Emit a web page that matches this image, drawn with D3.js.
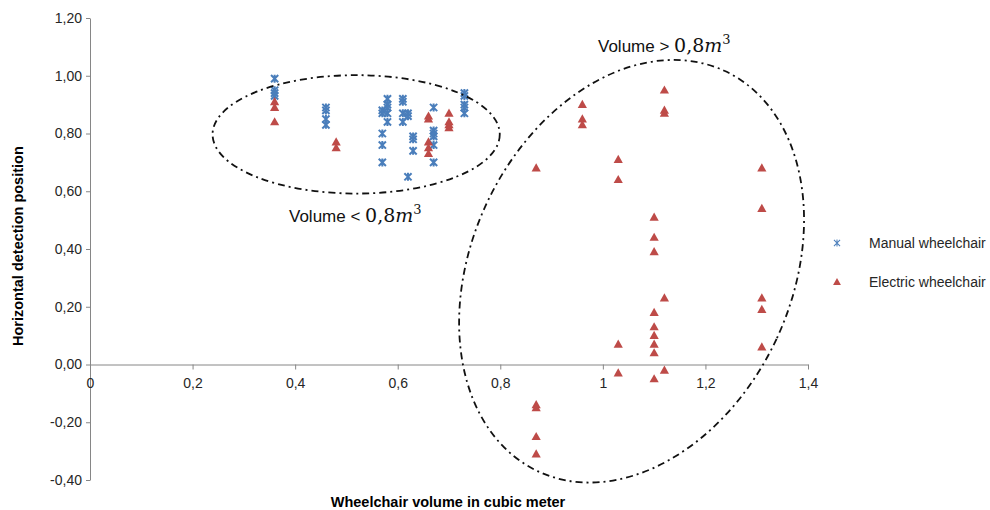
<!DOCTYPE html>
<html><head><meta charset="utf-8">
<script src="https://cdn.jsdelivr.net/npm/d3@7"></script>
<style>body{margin:0;background:#fff}svg{display:block}</style>
</head><body>
<script>
// ---- data ----
const manualX = [0.36,0.36,0.36,0.36, 0.46,0.46,0.46,0.46, 0.57,0.57,0.57,0.57,0.57,
  0.58,0.58,0.58,0.58,0.58, 0.61,0.61,0.61,0.61, 0.62,0.62,0.62, 0.63,0.63,0.63,
  0.67,0.67,0.67,0.67,0.67,0.67, 0.73,0.73,0.73,0.73,0.73];
const manualY = [0.99,0.95,0.94,0.93, 0.89,0.88,0.85,0.83, 0.88,0.87,0.80,0.76,0.70,
  0.92,0.90,0.89,0.87,0.84, 0.92,0.91,0.87,0.84, 0.87,0.86,0.65, 0.79,0.78,0.74,
  0.89,0.81,0.80,0.79,0.76,0.70, 0.94,0.93,0.90,0.89,0.87];
const electricX = [0.36,0.36,0.36, 0.48,0.48, 0.66,0.66,0.66,0.66,0.66, 0.70,0.70,0.70,0.70,
  0.87,0.87,0.87,0.87,0.87, 0.96,0.96,0.96, 1.03,1.03,1.03,1.03,
  1.10,1.10,1.10,1.10,1.10,1.10,1.10,1.10,1.10, 1.12,1.12,1.12,1.12,1.12,
  1.31,1.31,1.31,1.31,1.31];
const electricY = [0.91,0.89,0.84, 0.77,0.75, 0.86,0.85,0.77,0.75,0.73, 0.87,0.84,0.83,0.82,
  0.68,-0.14,-0.15,-0.25,-0.31, 0.90,0.85,0.83, 0.71,0.64,0.07,-0.03,
  0.51,0.44,0.39,0.18,0.13,0.10,0.07,0.04,-0.05, 0.95,0.88,0.87,0.23,-0.02,
  0.68,0.54,0.23,0.19,0.06];
const xTicks = [0,0.2,0.4,0.6,0.8,1,1.2,1.4];
const xTickLabels = ["0","0,2","0,4","0,6","0,8","1","1,2","1,4"];
const yTicks = [-0.4,-0.2,0,0.2,0.4,0.6,0.8,1.0,1.2];
const yTickLabels = ["-0,40","-0,20","0,00","0,20","0,40","0,60","0,80","1,00","1,20"];
const seriesNames = ["Manual wheelchair","Electric wheelchair"];
const xTitle = "Wheelchair volume in cubic meter";
const yTitle = "Horizontal detection position";
const groupLabels = ["Volume < ", "Volume > "];

// ---- chart ----
const W = 990, H = 510;
const blue = "#4a7ebb", red = "#be4b48", axisCol = "#868686", txt = "#262626";
const FONT = "'Liberation Sans', Arial, sans-serif";
const SERIF = "'DejaVu Serif', 'Liberation Serif', serif";
const svg = d3.select("body").append("svg").attr("width", W).attr("height", H)
  .style("font-family", FONT);

const x = d3.scaleLinear().domain([0, 1.4]).range([90, 808]);
const y = d3.scaleLinear().domain([-0.4, 1.2]).range([480, 18]);

// y axis
const yAxis = svg.append("g").attr("transform", `translate(${x(0)},0)`)
  .call(d3.axisLeft(y).tickValues(yTicks).tickFormat((d, i) => yTickLabels[i]).tickSize(4).tickSizeOuter(0));
yAxis.select(".domain").attr("stroke", axisCol);
yAxis.selectAll(".tick line").attr("stroke", axisCol);
yAxis.selectAll(".tick text").attr("font-size", 14).attr("fill", txt).attr("font-family", FONT).attr("x", -8);

// x axis at y=0
const xAxis = svg.append("g").attr("transform", `translate(0,${y(0)})`)
  .call(d3.axisBottom(x).tickValues(xTicks).tickFormat((d, i) => xTickLabels[i]).tickSize(5).tickSizeOuter(0));
xAxis.select(".domain").attr("stroke", axisCol);
xAxis.selectAll(".tick line").attr("stroke", axisCol);
xAxis.selectAll(".tick text").attr("font-size", 14).attr("fill", txt).attr("font-family", FONT).attr("y", 14);

// axis titles
svg.append("text").attr("x", 448).attr("y", 507).attr("text-anchor", "middle")
  .attr("font-size", 14.5).attr("font-weight", "bold").attr("fill", "#000").text(xTitle);
svg.append("text").attr("transform", `translate(23,${y(0.41)}) rotate(-90)`).attr("text-anchor", "middle")
  .attr("font-size", 14.5).attr("font-weight", "bold").attr("fill", "#000").text(yTitle);

// markers
const starPath = "M-3.6,-3.6L3.6,3.6M-3.6,3.6L3.6,-3.6M0,-4L0,4";
const triPath = "M0,-4.8L4.6,3.4L-4.6,3.4Z";
const manual = manualX.map((v, i) => ({x: v, y: manualY[i]}));
const electric = electricX.map((v, i) => ({x: v, y: electricY[i]}));

svg.append("g").selectAll("path").data(manual).join("path")
  .attr("transform", d => `translate(${x(d.x)},${y(d.y)})`)
  .attr("d", starPath).attr("fill", "none").attr("stroke", blue).attr("stroke-width", 2);
svg.append("g").selectAll("path").data(electric).join("path")
  .attr("transform", d => `translate(${x(d.x)},${y(d.y)})`)
  .attr("d", triPath).attr("fill", red);

// ellipses (annotation, data units)
const ellipses = [
  {cx: 0.519, cy: 0.797, rx: 0.28, ry: 0.205, rot: 0},
  {cx: 1.056, cy: 0.323, rx: 0.312, ry: 0.765, rot: 25}
];
ellipses.forEach(e => {
  svg.append("ellipse").attr("cx", 0).attr("cy", 0)
    .attr("rx", x(e.rx) - x(0)).attr("ry", y(0) - y(e.ry))
    .attr("transform", `translate(${x(e.cx)},${y(e.cy)}) rotate(${e.rot})`)
    .attr("fill", "none").attr("stroke", "#111").attr("stroke-width", 1.8)
    .attr("stroke-dasharray", "7,4,2,4");
});

// group labels
function volLabel(tx, ty, prefix) {
  const t = svg.append("text").attr("x", tx).attr("y", ty).attr("font-size", 17).attr("fill", "#111");
  t.append("tspan").text(prefix);
  t.append("tspan").attr("font-family", SERIF).attr("font-size", 19).text("0,8");
  t.append("tspan").attr("font-family", SERIF).attr("font-style", "italic").attr("font-size", 19).text("m");
  t.append("tspan").attr("font-family", SERIF).attr("font-size", 13).attr("dy", -8).text("3");
}
volLabel(289, 222, groupLabels[0]);
volLabel(598, 52, groupLabels[1]);

// legend
const lg = svg.append("g");
lg.append("path").attr("transform", "translate(837,243) scale(0.85)").attr("d", starPath)
  .attr("fill", "none").attr("stroke", blue).attr("stroke-width", 1.2);
lg.append("text").attr("x", 869).attr("y", 248).attr("font-size", 14).attr("fill", txt).text(seriesNames[0]);
lg.append("path").attr("transform", "translate(837,282) scale(0.85)").attr("d", triPath).attr("fill", red);
lg.append("text").attr("x", 869).attr("y", 287).attr("font-size", 14).attr("fill", txt).text(seriesNames[1]);
</script>
</body></html>
